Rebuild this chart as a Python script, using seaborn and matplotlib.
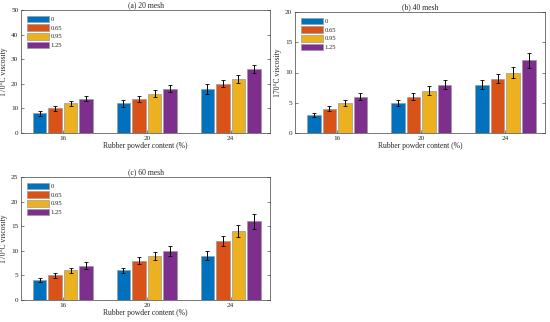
import numpy as np
import pandas as pd
import matplotlib
matplotlib.use("Agg")
import matplotlib.pyplot as plt
import seaborn as sns

# data
contents = ["16", "20", "24"]
doses = ["0", "0.65", "0.95", "1.25"]
colors = ["#0072BD", "#D95319", "#EDB120", "#7E2F8E"]

mesh20 = [[8, 10, 12, 14], [12, 14, 16, 18], [18, 20, 22, 26]]
mesh20_err = [[1.0, 1.0, 1.0, 1.0], [1.5, 1.2, 1.3, 1.5], [2.0, 1.5, 1.5, 1.8]]
mesh40 = [[3, 4, 5, 6], [5, 6, 7, 8], [8, 9, 10, 12]]
mesh40_err = [[0.3, 0.4, 0.5, 0.6], [0.5, 0.6, 0.7, 0.8], [0.7, 0.8, 0.9, 1.2]]
mesh60 = [[4, 5, 6, 7], [6, 8, 9, 10], [9, 12, 14, 16]]
mesh60_err = [[0.4, 0.5, 0.6, 0.7], [0.6, 0.7, 0.8, 1.0], [0.9, 1.0, 1.2, 1.5]]

panels = [
    ("(a) 20 mesh", mesh20, mesh20_err, 50, 10),
    ("(b) 40 mesh", mesh40, mesh40_err, 20, 5),
    ("(c) 60 mesh", mesh60, mesh60_err, 25, 5),
]

sns.set_theme(style="white")
plt.rcParams['font.family'] = ['Liberation Serif', 'DejaVu Serif']
plt.rcParams['font.size'] = 5


def draw(ax, title, vals, errs, ymax, step):
    rows = []
    for i, c in enumerate(contents):
        for j, d in enumerate(doses):
            rows.append({"content": c, "dose": d, "v": vals[i][j], "e": errs[i][j]})
    df = pd.DataFrame(rows)
    sns.barplot(data=df, x="content", y="v", hue="dose", hue_order=doses,
                order=contents, palette=colors, saturation=1, width=0.74, gap=0.13,
                edgecolor="#9a9a9a", linewidth=0.5, errorbar=None, ax=ax)
    # error bars at the centres of the drawn bars
    for j, d in enumerate(doses):
        cont = ax.containers[j]
        xs = [p.get_x() + p.get_width() / 2 for p in cont.patches]
        sub = df[df["dose"] == d]
        ax.errorbar(xs, sub["v"], yerr=sub["e"], fmt="none", ecolor="black",
                    elinewidth=0.7, capsize=1.5, capthick=0.6)
    ax.set_xlim(-0.5, 2.47)
    ax.set_ylim(0, ymax)
    ax.set_yticks(np.arange(0, ymax + 0.1, step))
    ax.set_title(title, fontsize=5.5, pad=2)
    ax.set_xlabel("Rubber powder content (%)", fontsize=5.5, labelpad=1)
    ax.set_ylabel("170°C viscosity", fontsize=5.5, labelpad=2)
    ax.tick_params(direction="in", length=2, width=0.4, labelsize=5.2, pad=2,
                   top=True, right=True, bottom=True, left=True, colors="#262626")
    ax.tick_params(axis="x", top=False)
    for s in ax.spines.values():
        s.set_linewidth(0.5)
        s.set_color("#404040")
    ax.legend(loc="upper left", fontsize=4.8, frameon=False,
              handlelength=3.3, handleheight=1.15, borderaxespad=0.45,
              labelspacing=0.3, handletextpad=0.3, title=None)


fig = plt.figure(figsize=(5.5, 3.22), dpi=100)
W, H = 550, 322
boxes = [(21, 10, 249, 123), (295, 12, 250, 121), (21, 177, 249, 123)]
for (title, vals, errs, ymax, step), (l, t, w, h) in zip(panels, boxes):
    ax = fig.add_axes([l / W, 1 - (t + h) / H, w / W, h / H])
    draw(ax, title, vals, errs, ymax, step)

fig.savefig("out.png", dpi=100)
